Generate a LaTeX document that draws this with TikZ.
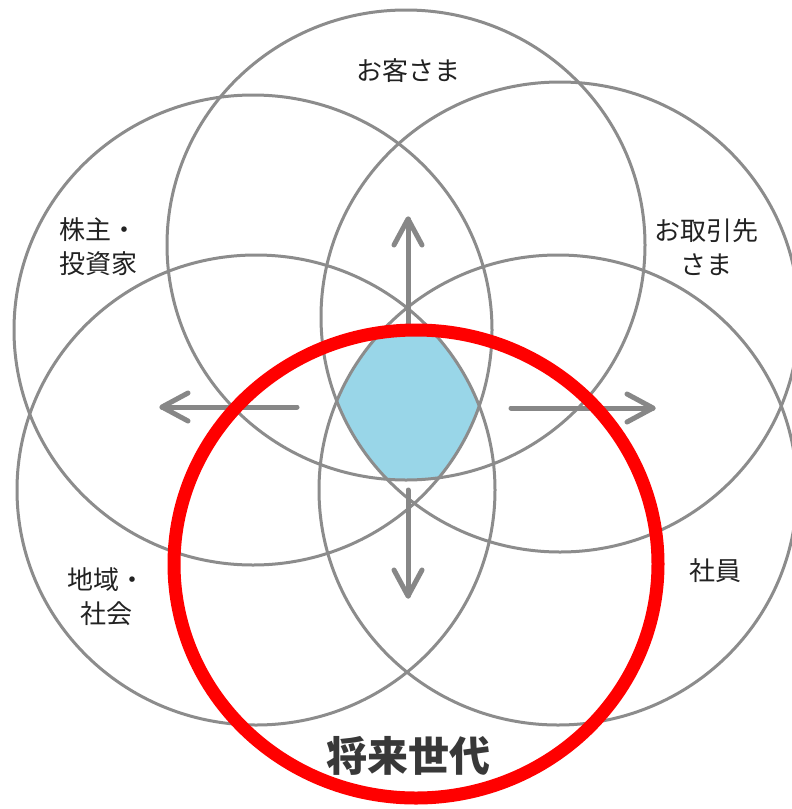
\documentclass[tikz,border=0pt]{standalone}
\usepackage{fontspec}
\newfontfamily\jp{Noto Sans CJK JP}
\definecolor{ringgray}{HTML}{8C8C8C}
\definecolor{arrowgray}{HTML}{878787}
\definecolor{ringred}{HTML}{FF0000}
\definecolor{hexblue}{HTML}{99D6E8}
\definecolor{labeltext}{HTML}{222222}
\definecolor{boldtext}{HTML}{383838}
\tikzset{
  ring/.style={draw=ringgray, line width=3pt},
  redring/.style={draw=ringred, line width=13pt},
  garrow/.style={draw=arrowgray, line width=5pt, line cap=round, line join=round},
  lbl/.style={font=\jp\fontsize{26}{34}\selectfont, text=labeltext, align=center, inner sep=0pt},
  biglbl/.style={font=\jp\bfseries\fontsize{41}{48}\selectfont, text=boldtext, inner sep=0pt}
}
\begin{document}
\begin{tikzpicture}[x=1pt,y=-1pt]
\useasboundingbox (0,0) rectangle (792,809);
\fill[white] (0,0) rectangle (792,809);
% centres
\coordinate (cT) at (406,245);
\coordinate (cTL) at (253,330);
\coordinate (cTR) at (560,317);
\coordinate (cBL) at (256,490);
\coordinate (cBR) at (558,490);
\coordinate (cR) at (416,564);
% centre region
\begin{scope}
  \clip (cT) ellipse [x radius=239, y radius=235];
  \clip (cTL) ellipse [x radius=239, y radius=235];
  \clip (cTR) ellipse [x radius=239, y radius=235];
  \clip (cBL) ellipse [x radius=239, y radius=235];
  \clip (cBR) ellipse [x radius=239, y radius=235];
  \clip (cR) ellipse [x radius=236, y radius=228];
  \fill[hexblue] (0,0) rectangle (792,809);
\end{scope}
% gray rings
\draw[ring] (cT) ellipse [x radius=239, y radius=235];
\draw[ring] (cTL) ellipse [x radius=239, y radius=235];
\draw[ring] (cTR) ellipse [x radius=239, y radius=235];
\draw[ring] (cBL) ellipse [x radius=239, y radius=235];
\draw[ring] (cBR) ellipse [x radius=239, y radius=235];
% arrows
\coordinate (upS) at (408,330);  \coordinate (upT) at (408,219);
\coordinate (dnS) at (408,490);  \coordinate (dnT) at (408,596);
\coordinate (lfS) at (297,407);  \coordinate (lfT) at (162,407);
\coordinate (rtS) at (511,408);  \coordinate (rtT) at (653,408);
\draw[garrow] (upS) -- (upT);
\draw[garrow] (upT) ++(-14,26) -- (upT) -- ++(14,26);
\draw[garrow] (dnS) -- (dnT);
\draw[garrow] (dnT) ++(-14,-26) -- (dnT) -- ++(14,-26);
\draw[garrow] (lfS) -- (lfT);
\draw[garrow] (lfT) ++(26,-14) -- (lfT) -- ++(26,14);
\draw[garrow] (rtS) -- (rtT);
\draw[garrow] (rtT) ++(-26,-14) -- (rtT) -- ++(-26,14);
% red ring
\draw[redring] (cR) ellipse [x radius=242, y radius=234];
% labels
\node[lbl] (customer) at (408,71) {お客さま};
\node[lbl] (holder) at (98,247) {株主・\\投資家};
\node[lbl] (partner) at (706,247) {お取引先\\さま};
\node[lbl] (community) at (106,597) {地域・\\社会};
\node[lbl] (employee) at (715,571) {社員};
\node[biglbl] (future) at (408,756) {将来世代};
\end{tikzpicture}
\end{document}
